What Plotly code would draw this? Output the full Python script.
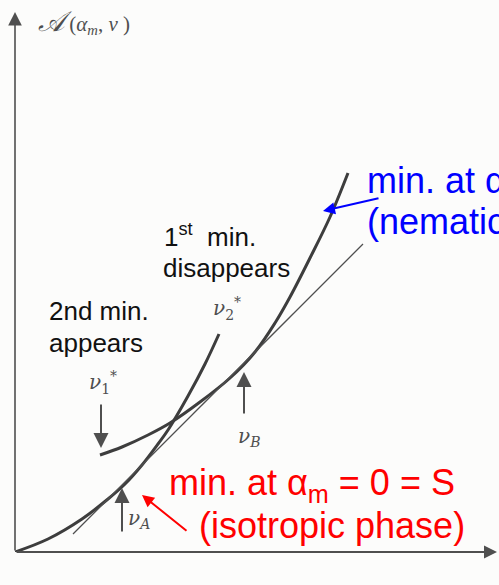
import plotly.graph_objects as go

# Free energy A(alpha_m, nu) versus coupling nu (arbitrary units)
iso_nu = [0.00, 0.33, 0.67, 0.93, 1.10, 1.27, 1.43, 1.53, 1.73, 1.90, 2.04]
iso_A = [0.00, 0.13, 0.33, 0.53, 0.68, 0.87, 1.08, 1.22, 1.56, 1.88, 2.18]

nem_nu = [0.85, 1.07, 1.33, 1.55, 1.85, 2.15, 2.40, 2.60, 2.75, 2.95, 3.15, 3.33]
nem_A = [0.97, 1.05, 1.17, 1.29, 1.50, 1.74, 2.00, 2.29, 2.55, 2.94, 3.35, 3.79]

# common tangent touching both branches
tan_nu = [0.58, 3.48]
tan_A = [0.18, 3.08]

# characteristic couplings marked on the curves
nu1_star = 0.86
nu_A = 1.07
nu_B = 2.29

INK = "#3d3d3d"
GRAY = "#4f4f4f"
BG = "#fcfcfb"

fig = go.Figure()
fig.add_trace(go.Scatter(x=iso_nu, y=iso_A, mode="lines",
                         line=dict(color=INK, width=3, shape="spline"),
                         hoverinfo="skip"))
fig.add_trace(go.Scatter(x=nem_nu, y=nem_A, mode="lines",
                         line=dict(color=INK, width=3, shape="spline"),
                         hoverinfo="skip"))
fig.add_trace(go.Scatter(x=tan_nu, y=tan_A, mode="lines",
                         line=dict(color=GRAY, width=1.3),
                         hoverinfo="skip"))

ann = []


def arrow(x0, y0, x1, y1, color, width=2, size=1.3, head=2):
    ann.append(dict(x=x1, y=y1, ax=x0, ay=y0, xref="x", yref="y",
                    axref="x", ayref="y", text="", showarrow=True,
                    arrowhead=head, arrowsize=size, arrowwidth=width,
                    arrowcolor=color))


def label(x, y, text, size, color, family, anchor="left"):
    ann.append(dict(x=x, y=y, xref="x", yref="y", text=text,
                    showarrow=False, xanchor=anchor, yanchor="middle",
                    font=dict(size=size, color=color, family=family)))


# axes drawn as arrows
arrow(0, 0, 0, 5.40, GRAY, width=1.6, size=1.7)
arrow(0, 0, 4.82, 0, GRAY, width=2, size=1.3)

# markers for nu1*, nu_A, nu_B
arrow(nu1_star, 1.49, nu1_star, 1.04, GRAY, width=2, size=1.5)
arrow(nu_A, 0.19, nu_A, 0.64, GRAY, width=2, size=1.5)
arrow(nu_B, 1.37, nu_B, 1.80, GRAY, width=2, size=1.5)

# highlighted arrows
arrow(1.73, 0.20, 1.27, 0.57, "#ff0000", width=2, size=1.2)
arrow(3.65, 3.54, 3.08, 3.41, "#0000ff", width=2, size=1.2)

SERIF = "DejaVu Serif"
TIMES = "Liberation Serif"
SANS = "Arial, Liberation Sans"
label(0.21, 5.30,
      "<span style='font-size:28px'><i>𝒜</i></span> (<i>α<sub>m</sub></i>, <i>ν</i> )",
      21, GRAY, TIMES)
label(2.12, 2.44, "<i>ν</i><sub>2</sub><sup>*</sup>", 20, GRAY, SERIF, "center")
label(0.88, 1.70, "<i>ν</i><sub>1</sub><sup>*</sup>", 20, GRAY, SERIF, "center")
label(2.34, 1.15, "<i>ν<sub>B</sub></i>", 20, GRAY, SERIF, "center")
label(1.24, 0.33, "<i>ν<sub>A</sub></i>", 20, GRAY, SERIF, "center")
label(4.70, -0.20, "<i>ν</i>", 20, GRAY, SERIF, "center")

label(1.47, 3.17, "1<sup>st</sup>  min.", 26, "#111111", SANS)
label(1.46, 2.84, "disappears", 26, "#111111", SANS)
label(0.32, 2.41, "2nd min.", 26, "#111111", SANS)
label(0.32, 2.09, "appears", 26, "#111111", SANS)

label(1.52, 0.67, "min. at α<sub>m</sub> = 0 = S", 36, "#ff0000", SANS)
label(1.82, 0.27, "(isotropic phase)", 36, "#ff0000", SANS)
label(3.50, 3.69, "min. at α<sub>m</sub> ≠ 0", 36, "#0000ff", SANS)
label(3.50, 3.31, "(nematic phase)", 36, "#0000ff", SANS)

fig.update_layout(
    width=499, height=585,
    margin=dict(l=15, r=4, t=12, b=33),
    paper_bgcolor=BG, plot_bgcolor=BG,
    showlegend=False,
    annotations=ann,
    xaxis=dict(range=[0, 4.8], showgrid=False, zeroline=False,
               showticklabels=False, showline=False, ticks=""),
    yaxis=dict(range=[0, 5.4], showgrid=False, zeroline=False,
               showticklabels=False, showline=False, ticks=""),
)

fig.write_html("out.html")
